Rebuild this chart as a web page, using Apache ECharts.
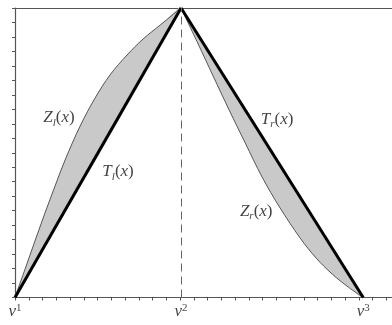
<!DOCTYPE html>
<html>
<head>
<meta charset="utf-8">
<script src="https://cdn.jsdelivr.net/npm/echarts@6/dist/echarts.min.js"></script>
<style>
  html, body { margin: 0; padding: 0; background: #fff; }
  #chart { width: 392px; height: 325px; }
</style>
</head>
<body>
<div id="chart"></div>
<script>
// vertices on the x axis (in tick units)
const vertexX = [0, 12.07, 25.31];
const vertexLabels = ['{v|ν}{u|1}', '{v|ν}{u|2}', '{v|ν}{u|3}'];

// left side: straight line T_l and curve Z_l
const tlX = [0, 12.07];
const tlY = [0, 10];
const zlX = [0, 0.73, 1.45, 2.18, 2.91, 3.64, 4.73, 5.82, 6.91, 8.15, 9.31, 10.55, 12.07];
const zlY = [0, 0.98, 1.95, 2.92, 3.85, 4.75, 5.92, 6.89, 7.69, 8.38, 8.93, 9.41, 10];

// right side: straight line T_r and curve Z_r
const trX = [12.07, 25.31];
const trY = [10, 0];
const zrX = [12.07, 13.24, 14.4, 15.56, 16.73, 17.96, 19.27, 20.73, 21.89, 23.05, 24.22, 25.31];
const zrY = [10, 8.83, 7.65, 6.48, 5.34, 4.16, 3.09, 2.05, 1.36, 0.81, 0.36, 0];

// curve names
const labelText = ['{i|Z}{s|l}{p|(}{i|x}{p|)}', '{i|T}{s|l}{p|(}{i|x}{p|)}',
                   '{i|T}{s|r}{p|(}{i|x}{p|)}', '{i|Z}{s|r}{p|(}{i|x}{p|)}'];
const labelX = [3.2, 7.49, 19.05, 17.53];
const labelY = [6.17, 4.3, 6.13, 2.95];

const SMOOTH = 0.35;
const pairs = (xs, ys) => xs.map((x, i) => [x, ys[i]]);

const serif = '"Liberation Serif", "DejaVu Serif", serif';
const rich = {
  i: { fontFamily: serif, fontStyle: 'italic', fontSize: 17, color: '#111', lineHeight: 19, verticalAlign: 'top' },
  p: { fontFamily: serif, fontSize: 17, color: '#111', lineHeight: 19, verticalAlign: 'top' },
  s: { fontFamily: serif, fontStyle: 'italic', fontSize: 11, color: '#111', lineHeight: 11, verticalAlign: 'bottom' }
};
const vrich = {
  v: { fontFamily: serif, fontStyle: 'italic', fontSize: 17, color: '#111', lineHeight: 18, verticalAlign: 'bottom' },
  u: { fontFamily: serif, fontSize: 11, color: '#111', lineHeight: 11, verticalAlign: 'top' }
};

const chart = echarts.init(document.getElementById('chart'));
chart.setOption({
  animation: false,
  grid: { left: 15, right: 0, top: 8, bottom: 27.5 },
  xAxis: [{
    type: 'value', min: 0, max: 27.4, interval: 1,
    axisLine: { lineStyle: { color: '#555', width: 1.2 } },
    axisTick: { length: 3, lineStyle: { color: '#555' } },
    splitLine: { show: false },
    axisLabel: { show: false }
  }, {
    type: 'value', position: 'top', min: 0, max: 27.4,
    axisLine: { show: true, onZero: false, lineStyle: { color: '#555', width: 1.2 } },
    axisTick: { show: false }, axisLabel: { show: false }, splitLine: { show: false }
  }],
  yAxis: {
    type: 'value', min: 0, max: 10, interval: 0.5,
    axisLine: { show: true, lineStyle: { color: '#555', width: 1.2 } },
    axisTick: { show: true, length: 3, lineStyle: { color: '#555' } },
    axisLabel: { show: false },
    splitLine: { show: false }
  },
  series: [
    // grey bands: each curve closed by the straight line joining its ends (T_l / T_r)
    {
      type: 'custom', silent: true, z: 1, data: [[0, 0]],
      renderItem: function (params, api) {
        const band = (cx, cy) => ({
          type: 'polygon',
          shape: { points: cx.map((x, i) => api.coord([x, cy[i]])), smooth: SMOOTH },
          style: { fill: '#c9c9c9' }
        });
        return { type: 'group', children: [band(zlX, zlY), band(zrX, zrY)] };
      }
    },
    {
      type: 'line', data: pairs(zlX, zlY), symbol: 'none', z: 3, smooth: SMOOTH,
      lineStyle: { color: '#555', width: 1 }
    },
    {
      type: 'line', data: pairs(zrX, zrY), symbol: 'none', z: 3, smooth: SMOOTH,
      lineStyle: { color: '#555', width: 1 }
    },
    {
      type: 'line', data: pairs(tlX, tlY), symbol: 'none', z: 4,
      lineStyle: { color: '#000', width: 3 },
      markLine: {
        silent: true, symbol: 'none', label: { show: false },
        lineStyle: { color: '#666', type: [8, 5], width: 1 },
        data: [[{ coord: [vertexX[1], 0] }, { coord: [vertexX[1], 10] }]]
      }
    },
    {
      type: 'line', data: pairs(trX, trY), symbol: 'none', z: 4,
      lineStyle: { color: '#000', width: 3 }
    },
    {
      type: 'scatter', symbolSize: 0, z: 5, silent: true,
      data: labelX.map((x, i) => ({ value: [x, labelY[i]], name: labelText[i] })),
      label: { show: true, position: 'inside', formatter: p => p.name, rich: rich }
    },
    {
      type: 'scatter', symbolSize: 0, z: 5, silent: true,
      data: vertexX.map((x, i) => ({ value: [x, 0], name: vertexLabels[i] })),
      label: { show: true, position: 'bottom', distance: 5, formatter: p => p.name, rich: vrich }
    }
  ]
});
</script>
</body>
</html>
